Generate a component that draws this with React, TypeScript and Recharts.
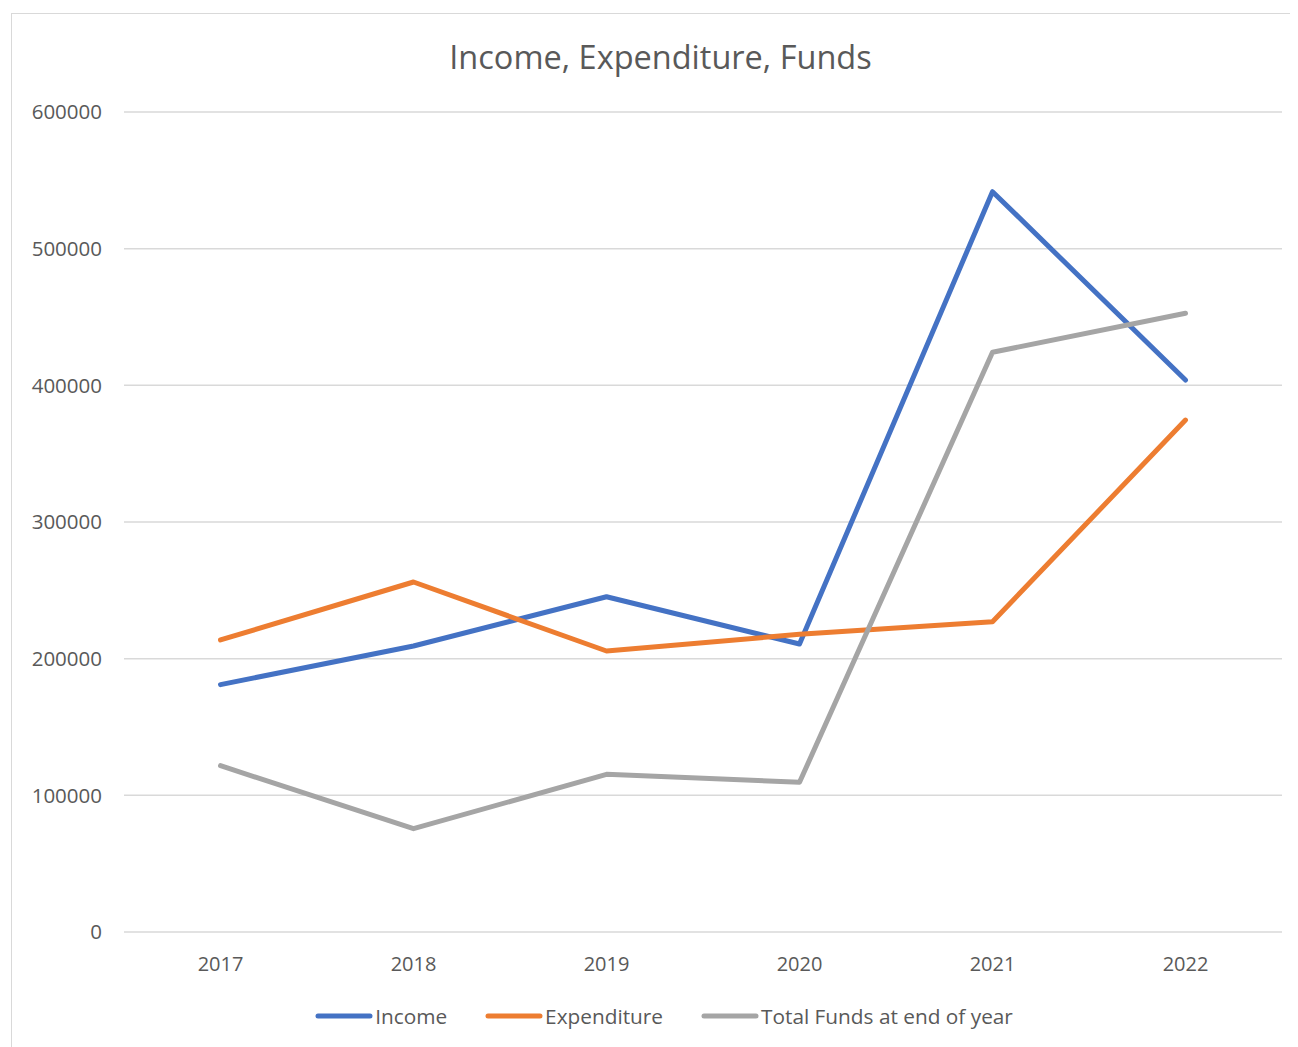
import React from 'react';
import { LineChart, Line, XAxis, YAxis, CartesianGrid, Legend } from 'recharts';

const years = ['2017', '2018', '2019', '2020', '2021', '2022'];
const income = [181000, 209300, 245300, 210700, 541700, 403900];
const expenditure = [213700, 256100, 205600, 217800, 227000, 374600];
const totalFunds = [121700, 75600, 115400, 109500, 424200, 452700];
const yTicks = [0, 100000, 200000, 300000, 400000, 500000, 600000];

const seriesList = [
  { key: 'income', name: 'Income', color: '#4472C4' },
  { key: 'expenditure', name: 'Expenditure', color: '#ED7D31' },
  { key: 'funds', name: 'Total Funds at end of year', color: '#A5A5A5' },
];

const data = years.map((year, i) => ({
  year,
  income: income[i],
  expenditure: expenditure[i],
  funds: totalFunds[i],
}));

const FONT = '"Open Sans", sans-serif';
const TEXT = '#595959';

// Excel-style legend: thick line swatch followed by the label
const LegendContent = () => (
  <div style={{ display: 'flex', justifyContent: 'center', alignItems: 'center', height: 40, paddingLeft: 38, fontFamily: FONT, fontSize: 20.8, color: TEXT }}>
    {seriesList.map(s => (
      <div key={s.key} style={{ display: 'flex', alignItems: 'center', margin: '0 19px' }}>
        <svg width={58} height={10} style={{ marginRight: 2 }}>
          <line x1={3} y1={5} x2={55} y2={5} stroke={s.color} strokeWidth={5} strokeLinecap="round" />
        </svg>
        <span>{s.name}</span>
      </div>
    ))}
  </div>
);

const App: React.FC = () => {
  return (
    <div style={{ position: 'relative', width: 1290, height: 1039, overflow: 'hidden', background: '#fff' }}>
      <div style={{ position: 'absolute', left: 3, top: 5, width: 1400, height: 1200, border: '1px solid #d9d9d9' }} />
      <div style={{ position: 'absolute', left: 15, right: 0, top: 26, textAlign: 'center', fontFamily: FONT, fontSize: 32.5, color: TEXT }}>
        Income, Expenditure, Funds
      </div>
      <div style={{ position: 'absolute', left: 0, top: 0 }}>
        <LineChart width={1290} height={1039} data={data} margin={{ top: 104, right: 16, left: 0, bottom: 11 }}>
          <CartesianGrid vertical={false} stroke="#d9d9d9" strokeWidth={1.5} />
          <XAxis
            dataKey="year"
            axisLine={false}
            tickLine={false}
            height={64}
            tickMargin={19}
            padding={{ left: 96.5, right: 96.5 }}
            tick={{ fontFamily: FONT, fontSize: 20, fill: TEXT }}
          />
          <YAxis
            width={116}
            domain={[0, 600000]}
            ticks={yTicks}
            axisLine={false}
            tickLine={false}
            tickMargin={16}
            tick={{ fontFamily: FONT, fontSize: 20.5, fill: TEXT }}
          />
          <Legend verticalAlign="bottom" height={40} content={<LegendContent />} />
          {seriesList.map(s => (
            <Line
              key={s.key}
              type="linear"
              dataKey={s.key}
              name={s.name}
              stroke={s.color}
              strokeWidth={5}
              strokeLinecap="round"
              strokeLinejoin="round"
              dot={false}
              activeDot={false}
              isAnimationActive={false}
            />
          ))}
        </LineChart>
      </div>
    </div>
  );
};

export default App;
